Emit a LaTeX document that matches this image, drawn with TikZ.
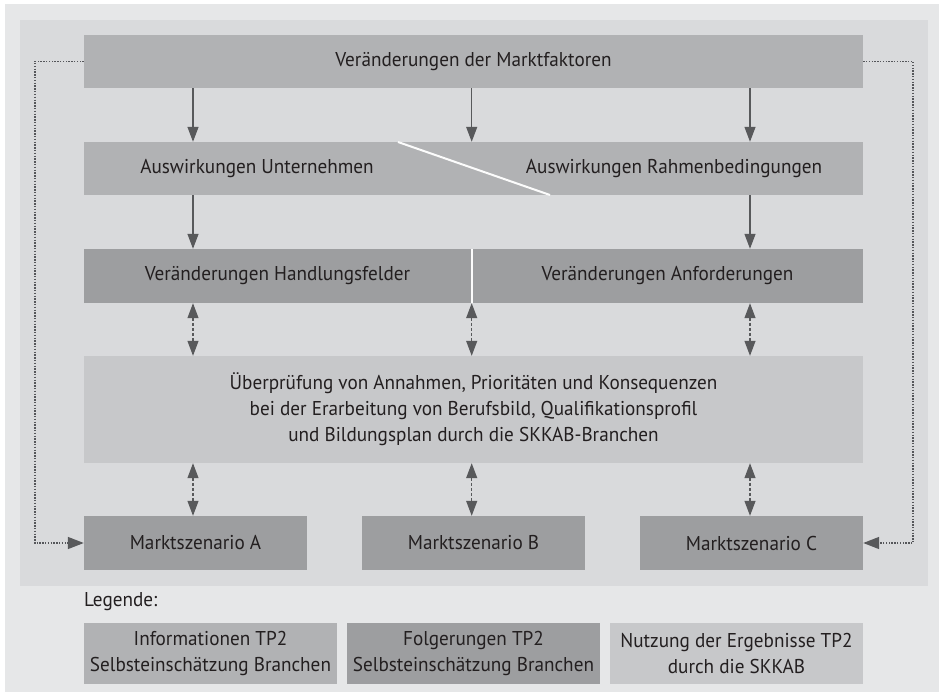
\documentclass[tikz,border=0pt]{standalone}
\usepackage{fontspec}
\setmainfont{PT Sans}[FakeStretch=0.96]
\usetikzlibrary{arrows.meta}
\definecolor{outerbg}{HTML}{E6E7E8}
\definecolor{innerbg}{HTML}{D9DADC}
\definecolor{infogray}{HTML}{B1B2B4}
\definecolor{folggray}{HTML}{9D9EA0}
\definecolor{nutzgray}{HTML}{C7C8CA}
\definecolor{arrowgray}{HTML}{58595B}
\definecolor{dotgray}{HTML}{55565A}
\definecolor{txt}{HTML}{231F20}
\tikzset{
  box/.style={draw=none, inner sep=0pt, align=center, text=txt,
    font=\fontsize{20}{26}\selectfont},
  infobox/.style={box, fill=infogray},
  folgbox/.style={box, fill=folggray},
  nutzbox/.style={box, fill=nutzgray},
  label/.style={inner sep=0pt, text=txt, font=\fontsize{20}{26}\selectfont},
  flow/.style={draw=arrowgray, line width=1.3pt,
    -{Triangle[width=11pt,length=15pt]}},
  mutual/.style={draw=arrowgray, line width=1.2pt, dash pattern=on 3pt off 2pt,
    {Triangle[width=11pt,length=15pt]}-{Triangle[width=11pt,length=15pt]}},
  feedback/.style={draw=dotgray, line width=1.5pt, dash pattern=on 1.4pt off 1.4pt},
  feedhead/.style={feedback, -{Triangle[width=12pt,length=16pt,color=arrowgray,fill=arrowgray]}}
}
\begin{document}
\begin{tikzpicture}[x=1pt,y=-1pt]
  % page, outer frame and inner panel
  \fill[white] (0,0) rectangle (939,693);
  \useasboundingbox (0,0) rectangle (939,693);
  \fill[outerbg] (5,4) rectangle (939,692);
  \fill[innerbg] (20,20) rectangle (928,586);

  % column positions of the connectors
  \coordinate (cL) at (193,0);
  \coordinate (cM) at (471.7,0);
  \coordinate (cR) at (750,0);

  % main blocks
  \node[infobox, minimum width=779pt, minimum height=53pt] (markt) at (473.5,61.5)
    {Veränderungen der Marktfaktoren};
  \node[infobox, minimum width=779pt, minimum height=53pt] (ausw) at (473.5,168.5) {};
  \draw[white!92!innerbg, line width=2pt] (398,142) -- (550,195);
  \node[label] (ausU) at (257,168.5) {Auswirkungen Unternehmen};
  \node[label] (ausR) at (674,168.5) {Auswirkungen Rahmenbedingungen};

  \node[folgbox, minimum width=387pt, minimum height=54pt] (handl) at (277.5,276)
    {Veränderungen Handlungsfelder};
  \node[folgbox, minimum width=391pt, minimum height=54pt] (anford) at (667.5,276)
    {Veränderungen Anforderungen};
  \draw[white!92!innerbg, line width=2.2pt] (471.7,249) -- (471.7,303);

  \node[nutzbox, minimum width=779pt, minimum height=107pt] (pruef) at (473.5,409.5)
    {Überprüfung von Annahmen, Prioritäten und Konsequenzen\\
     bei der Erarbeitung von Berufsbild, Qualifikationsprofil\\
     und Bildungsplan durch die SKKAB-Branchen};

  \node[folgbox, minimum width=223pt, minimum height=54pt] (szA) at (195.5,543) {Marktszenario A};
  \node[folgbox, minimum width=223pt, minimum height=54pt] (szB) at (473.5,543) {Marktszenario B};
  \node[folgbox, minimum width=223pt, minimum height=54pt] (szC) at (751.5,543) {Marktszenario C};

  % solid flow arrows
  \draw[flow] (markt.south -| cL) -- (ausw.north -| cL);
  \draw[flow] (markt.south -| cM) -- (ausw.north -| cM);
  \draw[flow] (markt.south -| cR) -- (ausw.north -| cR);
  \draw[flow] (ausw.south -| cL) -- (handl.north -| cL);
  \draw[flow] (ausw.south -| cR) -- (anford.north -| cR);

  % dashed two-way arrows
  \draw[mutual] (handl.south -| cL) -- (pruef.north -| cL);
  \draw[mutual] (handl.south -| cM) -- (pruef.north -| cM);
  \draw[mutual] (anford.south -| cR) -- (pruef.north -| cR);
  \draw[mutual] (pruef.south -| cL) -- (szA.north -| cL);
  \draw[mutual] (pruef.south -| cM) -- (szB.north -| cM);
  \draw[mutual] (pruef.south -| cR) -- (szC.north -| cR);

  % dotted feedback loops
  \coordinate (fbL) at (35,0);
  \coordinate (fbR) at (913,0);
  \draw[feedhead] (markt.west) -- (markt.west -| fbL) -- (szA.west -| fbL) -- (szA.west);
  \draw[feedhead] (markt.east) -- (markt.east -| fbR) -- (szC.east -| fbR) -- (szC.east);

  % legend
  \node[label, anchor=west] (leg) at (84,601.5) {Legende:};
  \node[infobox, minimum width=253pt, minimum height=61pt] (legI) at (210.5,653.5)
    {Informationen TP2\\Selbsteinschätzung Branchen};
  \node[folgbox, minimum width=253pt, minimum height=61pt] (legF) at (473.5,653.5)
    {Folgerungen TP2\\Selbsteinschätzung Branchen};
  \node[nutzbox, minimum width=253pt, minimum height=61pt] (legN) at (736.5,653.5)
    {Nutzung der Ergebnisse TP2\\durch die SKKAB};
\end{tikzpicture}
\end{document}
